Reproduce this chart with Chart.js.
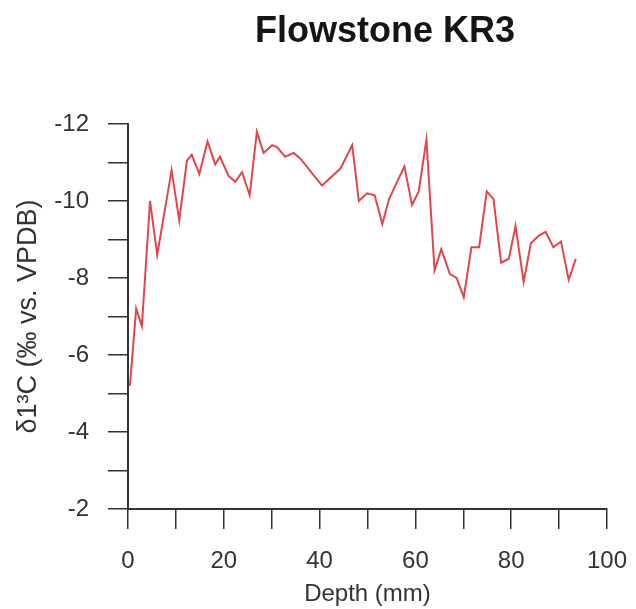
<!DOCTYPE html>
<html>
<head>
<meta charset="utf-8">
<script src="https://cdn.jsdelivr.net/npm/chart.js@4/dist/chart.umd.min.js"></script>
<style>
    html, body { margin: 0; padding: 0; background: #fff; }
    #wrap { position: relative; width: 636px; height: 609px; }
    #title {
        position: absolute; left: 134px; width: 502px; top: 10px;
        text-align: center; font: bold 36px "Liberation Sans", Arial, sans-serif;
        line-height: 40px; color: #151515;
    }
</style>
</head>
<body>
<div id="wrap">
    <div id="title">Flowstone KR3</div>
    <canvas id="kr3Chart" width="636" height="609"></canvas>
</div>
<script>
// depth along the flowstone (mm)
const depth = [0.4, 1.7, 2.9, 4.6, 6.1, 9.1, 10.7, 12.3, 13.3, 14.9, 16.6, 18.2, 19.2, 21.0, 22.4, 23.8,
    25.4, 26.9, 28.3, 30.1, 31.1, 32.8, 34.6, 36.0, 40.5, 44.4, 46.8, 48.2, 49.9, 51.5, 53.1, 54.5,
    57.7, 59.3, 60.7, 62.3, 64.0, 65.4, 67.2, 68.6, 70.1, 71.7, 73.3, 74.9, 76.3, 77.9, 79.5, 80.9,
    82.6, 84.1, 85.8, 87.2, 88.8, 90.4, 92.0, 93.5];
// carbon isotope values (permil vs. VPDB)
const d13C = [-5.2, -7.2, -6.75, -10.0, -8.6, -10.8, -9.5, -11.05, -11.2, -10.7, -11.55, -10.95, -11.15, -10.65, -10.5, -10.75,
    -10.15, -11.8, -11.25, -11.45, -11.4, -11.15, -11.25, -11.1, -10.4, -10.85, -11.45, -10.0, -10.2, -10.15, -9.4, -10.05,
    -10.9, -9.9, -10.25, -11.6, -8.2, -8.75, -8.1, -8.0, -7.5, -8.8, -8.8, -10.25, -10.05, -8.4, -8.5, -9.35,
    -7.9, -8.9, -9.1, -9.2, -8.8, -8.95, -7.95, -8.5];

const xLabels = [0, 20, 40, 60, 80, 100];
const yLabels = [-12, -10, -8, -6, -4, -2];

const fontFamily = '"Liberation Sans", Arial, sans-serif';
const axisColor = '#333';

const points = depth.map((d, i) => ({ x: d, y: d13C[i] }));

const ctx = document.getElementById('kr3Chart').getContext('2d');
new Chart(ctx, {
    type: 'line',
    data: {
        datasets: [{
            data: points,
            borderColor: '#e0474c',
            borderWidth: 2,
            pointRadius: 0,
            tension: 0,
            fill: false
        }]
    },
    options: {
        responsive: false,
        animation: false,
        layout: { padding: { top: 124, right: 29, left: 0, bottom: 0 } },
        plugins: {
            legend: { display: false },
            tooltip: { enabled: false }
        },
        scales: {
            x: {
                type: 'linear',
                min: 0,
                max: 100,
                afterFit: (scale) => {
                    scale.height = 100;
                    scale.paddingRight = 0; // let the "100" label run into the right margin
                },
                border: { display: true, color: axisColor, width: 2 },
                grid: { drawOnChartArea: false, drawTicks: true, tickLength: 20, color: axisColor, lineWidth: 1.5 },
                ticks: {
                    stepSize: 10,
                    padding: 18,
                    maxRotation: 0,
                    color: axisColor,
                    font: { family: fontFamily, size: 24 },
                    callback: (v) => xLabels.includes(v) ? String(v) : ''
                },
                title: {
                    display: true,
                    text: 'Depth (mm)',
                    color: axisColor,
                    font: { family: fontFamily, size: 24 },
                    padding: { top: 0, bottom: 0 }
                }
            },
            y: {
                type: 'linear',
                min: -12,
                max: -2,
                reverse: true,
                afterFit: (scale) => { scale.width = 128; },
                border: { display: true, color: axisColor, width: 2 },
                grid: { drawOnChartArea: false, drawTicks: true, tickLength: 20, color: axisColor, lineWidth: 1.5 },
                ticks: {
                    stepSize: 1,
                    padding: 19,
                    color: axisColor,
                    font: { family: fontFamily, size: 24 },
                    callback: (v) => yLabels.includes(v) ? String(v) : ''
                },
                title: {
                    display: true,
                    text: 'δ1³C (‰ vs. VPDB)',
                    color: axisColor,
                    font: { family: fontFamily, size: 27 },
                    padding: { top: 12, bottom: 0 }
                }
            }
        }
    }
});
</script>
</body>
</html>
